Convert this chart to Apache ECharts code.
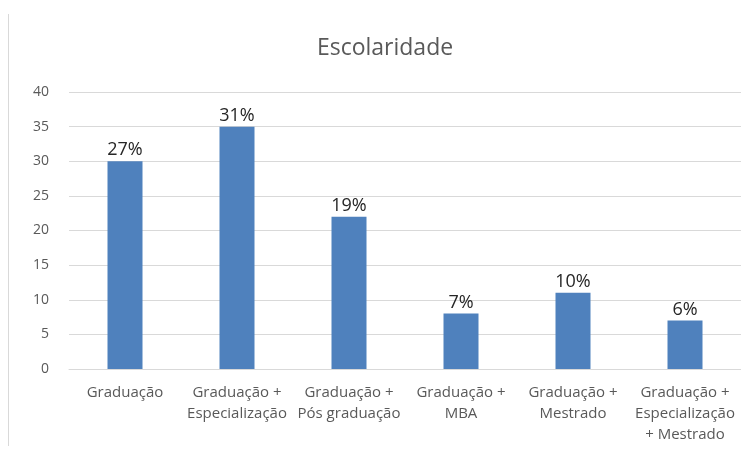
<!DOCTYPE html>
<html><head><meta charset="utf-8">
<script src="https://cdn.jsdelivr.net/npm/echarts@6/dist/echarts.min.js"></script>
<style>html,body{margin:0;padding:0;background:#fff}#c{width:741px;height:450px}</style>
</head><body><div id="c"></div>
<script>
const categories = ["Graduação", "Graduação +\nEspecialização", "Graduação +\nPós graduação", "Graduação +\nMBA", "Graduação +\nMestrado", "Graduação +\nEspecialização\n+ Mestrado"];
const values = [30, 35, 22, 8, 11, 7];
const percentLabels = ["27%", "31%", "19%", "7%", "10%", "6%"];
const yTicks = {min: 0, max: 40, interval: 5};

const chart = echarts.init(document.getElementById('c'), null, {renderer: 'canvas'});
chart.setOption({
  animation: false,
  title: {
    text: 'Escolaridade', left: 380, top: 32, textAlign: 'center',
    textStyle: {fontFamily: 'Open Sans', fontSize: 23, fontWeight: 'normal', color: '#595959'}
  },
  graphic: [{type: 'line', shape: {x1: 8.5, y1: 14, x2: 8.5, y2: 446}, style: {stroke: '#d9d9d9', lineWidth: 1}}],
  grid: {left: 69, width: 674, top: 92, bottom: 81},
  xAxis: {
    type: 'category', data: categories,
    axisLine: {lineStyle: {color: '#d9d9d9'}},
    axisTick: {show: false},
    axisLabel: {interval: 0, color: '#595959', fontFamily: 'Open Sans', fontSize: 15, lineHeight: 21, margin: 13}
  },
  yAxis: {
    type: 'value', min: yTicks.min, max: yTicks.max, interval: yTicks.interval,
    axisLine: {show: false}, axisTick: {show: false},
    splitLine: {lineStyle: {color: '#d9d9d9'}},
    axisLabel: {color: '#595959', fontFamily: 'Open Sans', fontSize: 14, margin: 20}
  },
  series: [{
    type: 'bar', data: values, barWidth: 35,
    itemStyle: {color: '#4f81bd'},
    label: {
      show: true, position: 'top', distance: 2,
      formatter: p => percentLabels[p.dataIndex],
      color: '#262626', fontFamily: 'Open Sans', fontSize: 18
    }
  }]
});
</script></body></html>
